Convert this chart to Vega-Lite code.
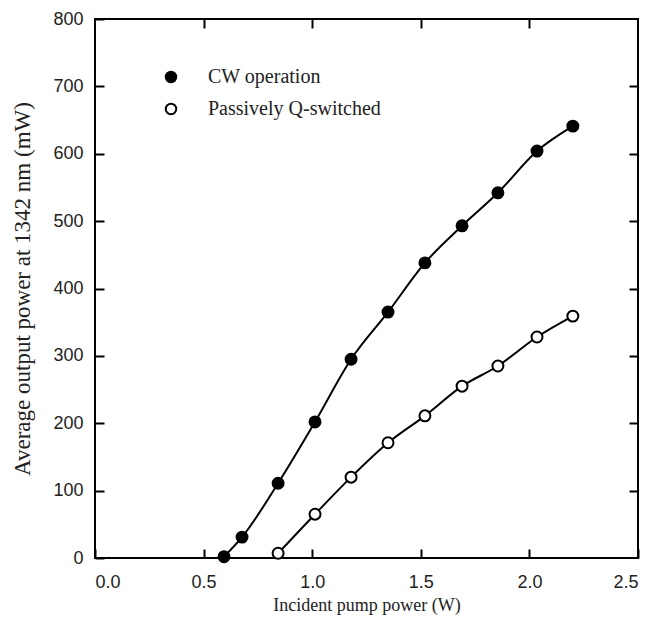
{
  "$schema": "https://vega.github.io/schema/vega-lite/v6.json",
  "autosize": {"type": "none"},
  "padding": {"left": 95, "top": 19, "right": 18, "bottom": 79},
  "width": 543,
  "height": 539,
  "background": "white",
  "config": {
    "view": {"stroke": "black", "strokeWidth": 2},
    "axis": {
      "zindex": 1, "domain": false, "offset": -9,
      "tickColor": "black", "tickWidth": 2, "tickSize": 9,
      "grid": false, "labelFont": "Liberation Sans", "labelFontSize": 18, "labelColor": "#222",
      "titleFont": "Liberation Serif", "titleFontSize": 18, "titleFontWeight": "normal", "titleColor": "#222"
    }
  },
  "data": {"values": [
    {"x": 0.594, "y": 2, "s": "CW operation"},
    {"x": 0.677, "y": 31, "s": "CW operation"},
    {"x": 0.843, "y": 111, "s": "CW operation"},
    {"x": 1.013, "y": 202, "s": "CW operation"},
    {"x": 1.179, "y": 295, "s": "CW operation"},
    {"x": 1.349, "y": 365, "s": "CW operation"},
    {"x": 1.519, "y": 438, "s": "CW operation"},
    {"x": 1.69, "y": 493, "s": "CW operation"},
    {"x": 1.855, "y": 542, "s": "CW operation"},
    {"x": 2.035, "y": 604, "s": "CW operation"},
    {"x": 2.2, "y": 641, "s": "CW operation"},
    {"x": 0.843, "y": 7, "s": "Passively Q-switched"},
    {"x": 1.013, "y": 65, "s": "Passively Q-switched"},
    {"x": 1.179, "y": 120, "s": "Passively Q-switched"},
    {"x": 1.349, "y": 171, "s": "Passively Q-switched"},
    {"x": 1.519, "y": 211, "s": "Passively Q-switched"},
    {"x": 1.69, "y": 255, "s": "Passively Q-switched"},
    {"x": 1.855, "y": 285, "s": "Passively Q-switched"},
    {"x": 2.035, "y": 328, "s": "Passively Q-switched"},
    {"x": 2.2, "y": 359, "s": "Passively Q-switched"}
  ]},
  "layer": [
    {
      "encoding": {
        "x": {"field": "x", "type": "quantitative", "scale": {"domain": [0, 2.5], "nice": false},
          "axis": {"orient": "bottom", "values": [0, 0.5, 1, 1.5, 2, 2.5], "format": ".1f", "title": "Incident pump power (W)", "labelPadding": 15, "titlePadding": 5}},
        "y": {"field": "y", "type": "quantitative", "scale": {"domain": [0, 800], "nice": false},
          "axis": {"orient": "left", "values": [0, 100, 200, 300, 400, 500, 600, 700, 800], "title": "Average output power at 1342 nm (mW)", "titleFontSize": 23, "labelPadding": 12, "titlePadding": 18}}
      },
      "layer": [
        {
          "mark": {"type": "line", "color": "black", "strokeWidth": 2, "interpolate": "monotone"},
          "encoding": {"detail": {"field": "s"}}
        },
        {
          "mark": {"type": "point", "filled": true, "stroke": "black", "strokeWidth": 2, "size": 120, "shape": "circle", "opacity": 1},
          "encoding": {
            "fill": {"field": "s", "type": "nominal", "scale": {"domain": ["CW operation", "Passively Q-switched"], "range": ["black", "white"]},
              "legend": {"title": null, "orient": "none", "legendX": 66, "legendY": 48, "labelFont": "Liberation Serif", "labelFontSize": 20, "labelColor": "#222", "labelLimit": 400,
                "symbolStrokeColor": "black", "symbolStrokeWidth": 2, "symbolSize": 110, "symbolOpacity": 1, "labelOffset": 27, "rowPadding": 12}}
          }
        }
      ]
    },
    {
      "mark": {"type": "point", "opacity": 0},
      "encoding": {
        "x": {"field": "x", "type": "quantitative", "axis": {"orient": "top", "values": [0.5, 1, 1.5, 2], "labels": false, "title": null}},
        "y": {"field": "y", "type": "quantitative", "axis": {"orient": "right", "values": [100, 200, 300, 400, 500, 600, 700], "labels": false, "title": null}}
      }
    }
  ],
  "resolve": {"axis": {"x": "independent", "y": "independent"}}
}
